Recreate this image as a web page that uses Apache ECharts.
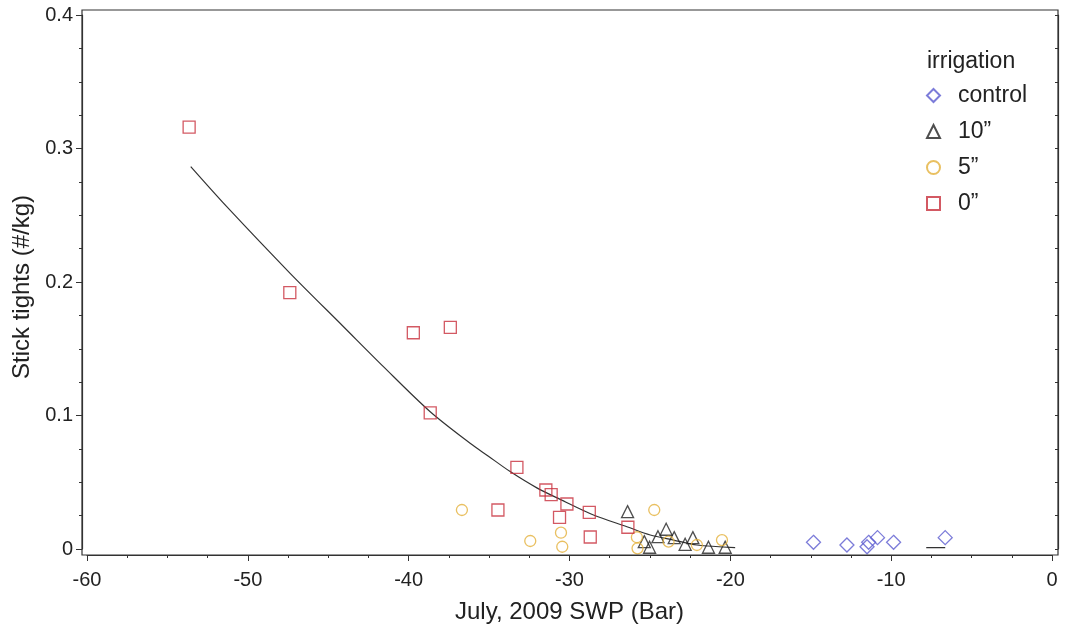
<!DOCTYPE html>
<html>
<head>
<meta charset="utf-8">
<script src="https://cdn.jsdelivr.net/npm/echarts@6/dist/echarts.min.js"></script>
<style>
  html, body { margin: 0; padding: 0; background: #fff; }
  #chart { width: 1067px; height: 634px; }
</style>
</head>
<body>
<div id="chart"></div>
<script>
// ---- data (x = July 2009 SWP in bar, y = stick tights #/kg) ----
const controlPts = [[-14.83, 0.005], [-12.75, 0.003], [-11.5, 0.0017], [-11.4, 0.005], [-10.85, 0.0085], [-9.85, 0.005], [-6.64, 0.0085]];
const tenInchPts = [[-26.39, 0.028], [-25.35, 0.0055], [-25.02, 0.0013], [-24.5, 0.0092], [-23.99, 0.0148], [-23.49, 0.0085], [-22.81, 0.0035], [-22.33, 0.0085], [-21.36, 0.0013], [-20.32, 0.0013]];
const fiveInchPts = [[-36.69, 0.0292], [-32.44, 0.006], [-30.53, 0.0122], [-30.45, 0.0017], [-24.73, 0.0292], [-25.81, 0.0088], [-25.77, 0.0005], [-23.84, 0.0055], [-22.08, 0.003], [-20.52, 0.0067]];
const zeroInchPts = [[-53.65, 0.316], [-47.39, 0.192], [-39.71, 0.162], [-37.41, 0.166], [-38.66, 0.102], [-33.27, 0.0612], [-31.47, 0.0442], [-31.14, 0.0407], [-30.16, 0.0337], [-30.62, 0.0237], [-34.45, 0.0292], [-28.77, 0.0275], [-28.71, 0.009], [-26.37, 0.0163]];
const fitCurve = [[-53.55, 0.2864], [-51.31, 0.2564], [-47.37, 0.2065], [-44.05, 0.1665], [-41.57, 0.1366], [-38.66, 0.1028], [-36.18, 0.0792], [-35.04, 0.0695], [-33.69, 0.058], [-32.03, 0.0458], [-30.58, 0.0372], [-28.51, 0.0255], [-26.43, 0.0167], [-24.98, 0.0105], [-23.53, 0.0067], [-22.08, 0.003], [-19.7, 0.001]];
const controlFit = [[-7.82, 0.001], [-6.64, 0.001]];
const seriesNames = ['control', '10\u201D', '5\u201D', '0\u201D'];
const legendTitle = 'irrigation';
const xTitle = 'July, 2009 SWP (Bar)';
const yTitle = 'Stick tights (#/kg)';

const FONT = 'Liberation Sans, Arial, sans-serif';
const chart = echarts.init(document.getElementById('chart'), null, { renderer: 'canvas' });

function scatter(name, data, symbol, size, color) {
  return {
    name: name, type: 'scatter', data: data, symbol: symbol, symbolSize: size,
    xAxisIndex: 0, yAxisIndex: 0,
    itemStyle: { color: 'rgba(0,0,0,0)', borderColor: color, borderWidth: 1.3 },
    emphasis: { disabled: true }, z: 3
  };
}

chart.setOption({
  animation: false,
  backgroundColor: '#fff',
  title: {
    text: legendTitle, left: 922, top: 45,
    textStyle: { fontFamily: FONT, fontSize: 23, fontWeight: 'normal', color: '#222' }
  },
  legend: {
    orient: 'vertical', left: 921, top: 79, itemGap: 13,
    itemWidth: 13, itemHeight: 13,
    data: seriesNames,
    textStyle: { fontFamily: FONT, fontSize: 23, color: '#222', padding: [0, 0, 0, 13] }
  },
  grid: { left: 87, right: 15, top: 15, bottom: 85, containLabel: false },
  xAxis: [{
    type: 'value', min: -60, max: 0, interval: 10, position: 'bottom', offset: 6,
    name: xTitle, nameLocation: 'middle', nameGap: 45,
    nameTextStyle: { fontFamily: FONT, fontSize: 24, color: '#222' },
    axisLine: { show: true, onZero: false, lineStyle: { color: '#333', width: 1.2 } },
    axisTick: { show: true, length: 6, lineStyle: { color: '#333' } },
    minorTick: { show: true, splitNumber: 4, length: 3, lineStyle: { color: '#333' } },
    axisLabel: { fontFamily: FONT, fontSize: 20, color: '#222', margin: 15 },
    splitLine: { show: false }
  }],
  yAxis: [{
    type: 'value', min: 0, max: 0.4, interval: 0.1, position: 'left', offset: 5,
    name: yTitle, nameLocation: 'middle', nameGap: 44,
    nameTextStyle: { fontFamily: FONT, fontSize: 24, color: '#222', padding: [0, 10, 0, 0] },
    axisLine: { show: true, onZero: false, lineStyle: { color: '#333', width: 1.2 } },
    axisTick: { show: true, length: 6, lineStyle: { color: '#333' } },
    minorTick: { show: true, splitNumber: 4, length: 3, lineStyle: { color: '#333' } },
    axisLabel: { fontFamily: FONT, fontSize: 20, color: '#222', margin: 9 },
    splitLine: { show: false }
  }, {
    type: 'value', min: 0, max: 0.4, interval: 0.025, position: 'right', offset: 6,
    axisLine: { show: true, onZero: false, lineStyle: { color: '#333', width: 1.2 } },
    axisTick: { show: true, inside: true, length: 3, lineStyle: { color: '#333' } },
    axisLabel: { show: false },
    splitLine: { show: false }
  }],
  graphic: [{
    type: 'rect', silent: true, z: 10,
    shape: { x: 82, y: 10, width: 976, height: 545 },
    style: { fill: null, stroke: '#333', lineWidth: 1.2 }
  }],
  series: [
    scatter(seriesNames[0], controlPts, 'diamond', 14, '#5b5bd0'),
    scatter(seriesNames[1], tenInchPts, 'triangle', 12, '#222222'),
    scatter(seriesNames[2], fiveInchPts, 'circle', 11, '#e3b03a'),
    scatter(seriesNames[3], zeroInchPts, 'rect', 12, '#c8303c'),
    {
      type: 'line', data: fitCurve, showSymbol: false, symbol: 'none', smooth: 0.3,
      lineStyle: { color: '#333', width: 1.2 }, emphasis: { disabled: true }, z: 2
    },
    {
      type: 'line', data: controlFit, showSymbol: false, symbol: 'none',
      lineStyle: { color: '#333', width: 1.2 }, emphasis: { disabled: true }, z: 2
    }
  ]
});
</script>
</body>
</html>
